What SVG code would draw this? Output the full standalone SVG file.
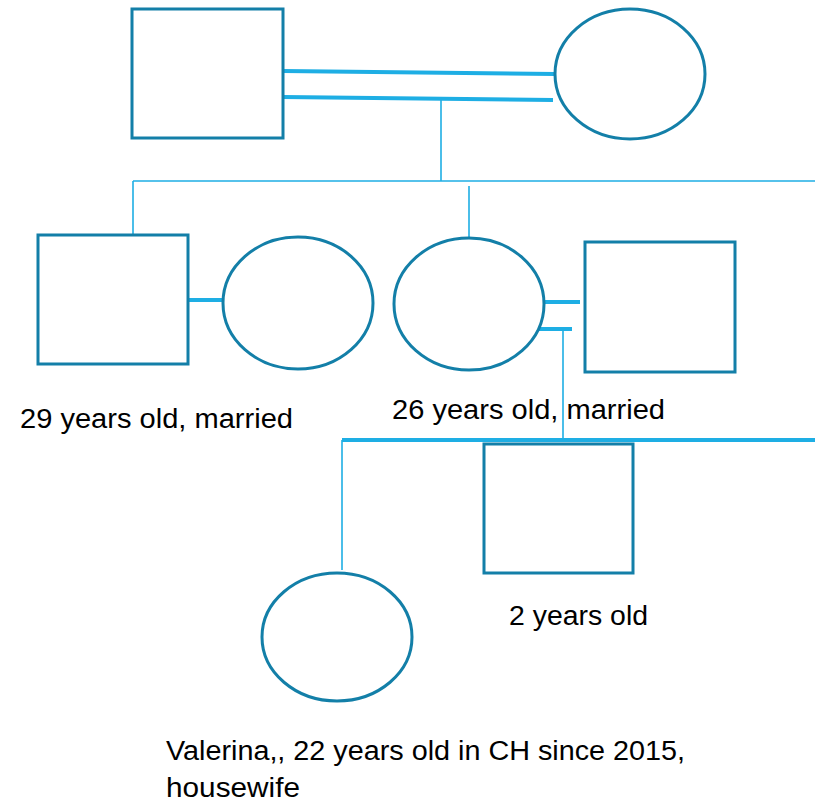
<svg xmlns="http://www.w3.org/2000/svg" width="815" height="804" viewBox="0 0 815 804">
<style>
.n{fill:#fff;stroke:#137FA8;stroke-width:3}
.t{stroke:#1EAEE4;fill:none;stroke-width:4}
.h{stroke:#1EAEE4;fill:none;stroke-width:1.6}
text{font-family:"Liberation Sans",Arial,sans-serif;font-size:27px;fill:#000}
</style>
<rect width="815" height="804" fill="#fff"/>
<g id="connectors">
<line class="t" x1="283" y1="71" x2="555" y2="74"/>
<line class="t" x1="283" y1="97" x2="553" y2="100"/>
<line class="h" x1="441" y1="99" x2="441" y2="181"/>
<line class="h" x1="133" y1="181" x2="815" y2="181"/>
<line class="h" x1="133" y1="181" x2="133" y2="235"/>
<line class="h" x1="469" y1="186" x2="469" y2="238"/>
<line class="t" x1="188" y1="300" x2="223" y2="300"/>
<line class="t" x1="544" y1="302" x2="580" y2="302"/>
<line class="t" x1="538" y1="329" x2="572" y2="329"/>
<line class="h" x1="563" y1="329" x2="563" y2="440"/>
<line class="t" x1="342" y1="440" x2="815" y2="440"/>
<line class="h" x1="342" y1="440" x2="342" y2="570"/>
</g>
<g id="grandfather"><rect class="n" x="132" y="9" width="151" height="129"/></g>
<g id="grandmother"><ellipse class="n" cx="630" cy="74" rx="75" ry="65"/></g>
<g id="son"><rect class="n" x="38" y="235" width="150" height="129"/></g>
<g id="son-wife"><ellipse class="n" cx="298" cy="303" rx="75" ry="66"/></g>
<g id="daughter"><ellipse class="n" cx="469" cy="304" rx="75" ry="66"/></g>
<g id="daughter-husband"><rect class="n" x="585" y="242" width="150" height="130"/></g>
<g id="grandson"><rect class="n" x="484" y="444" width="149" height="129"/></g>
<g id="valerina"><ellipse class="n" cx="337" cy="637" rx="75" ry="64"/></g>
<g id="labels">
<text x="20" y="428" textLength="273" lengthAdjust="spacingAndGlyphs">29 years old, married</text>
<text x="392" y="419" textLength="273" lengthAdjust="spacingAndGlyphs">26 years old, married</text>
<text x="509" y="625" textLength="139" lengthAdjust="spacingAndGlyphs">2 years old</text>
<text x="166" y="760" textLength="519" lengthAdjust="spacingAndGlyphs">Valerina,, 22 years old in CH since 2015,</text>
<text x="166" y="797" textLength="134" lengthAdjust="spacingAndGlyphs">housewife</text>
</g>
</svg>
